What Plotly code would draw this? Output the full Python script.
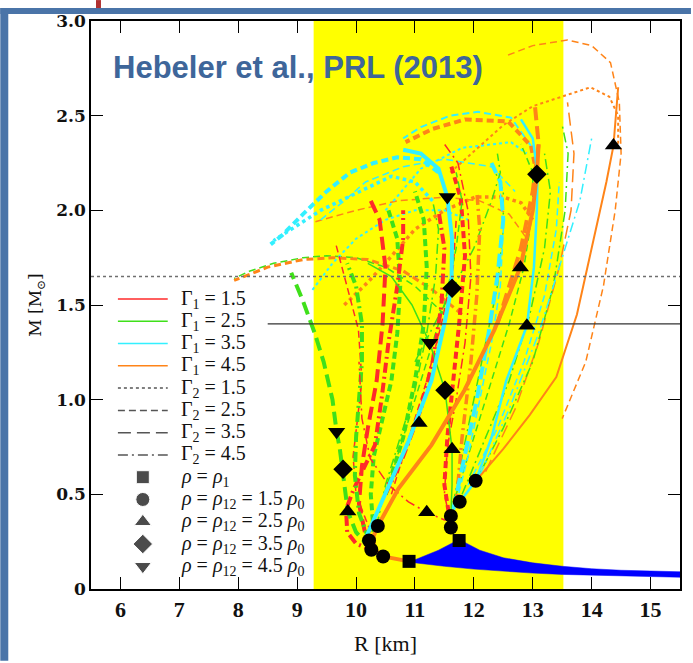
import plotly.graph_objects as go

# ---------------- data ----------------
radius_band = [9.28, 13.52]          # yellow band (km)
ref_mass_dotted = 1.65
ref_mass_solid = 1.4
ref_solid_start = 8.5

# blue crust band polygon
band_R = [10.95, 11.4, 11.75, 12.1, 12.5, 13.0, 13.5, 14.0, 14.5, 15.0, 15.5,
          15.5, 15.0, 14.5, 14.0, 13.5, 13.0, 12.5, 12.0, 11.5, 10.95]
band_M = [0.148, 0.205, 0.262, 0.205, 0.165, 0.138, 0.12, 0.107, 0.099, 0.094, 0.091,
          0.062, 0.065, 0.068, 0.072, 0.077, 0.084, 0.094, 0.105, 0.12, 0.14]

# markers
sq_R = [10.90, 11.75]
sq_M = [0.146, 0.256]
ci_R = [10.37, 10.22, 10.26, 10.46, 11.61, 11.61, 11.76, 12.03]
ci_M = [0.333, 0.256, 0.207, 0.172, 0.386, 0.325, 0.461, 0.572]
tu_R = [9.86, 11.20, 11.07, 11.63, 12.79, 12.90, 14.37]
tu_M = [0.409, 0.405, 0.877, 0.738, 1.698, 1.391, 2.342]
di_R = [9.78, 11.51, 11.63, 13.07]
di_M = [0.632, 1.05, 1.589, 2.19]
td_R = [9.67, 11.25, 11.55]
td_M = [0.83, 1.30, 2.07]

# mass-radius curves (R in km, M in Msun)
g1_R = [10.26, 10.0, 9.86, 9.80, 9.78, 9.72, 9.67, 9.60, 9.45, 9.30, 9.10, 8.90]
g1_M = [0.21, 0.30, 0.41, 0.55, 0.63, 0.75, 0.83, 1.00, 1.20, 1.35, 1.52, 1.67]
g2_R = [10.22, 10.05, 9.98, 10.0, 10.05, 10.1, 10.1, 10.0, 9.85]
g2_M = [0.26, 0.40, 0.60, 0.80, 1.00, 1.20, 1.40, 1.60, 1.72]
g3_R = [10.30, 10.25, 10.30, 10.45, 10.60, 10.70, 10.75, 10.70, 10.55]
g3_M = [0.30, 0.50, 0.70, 0.90, 1.10, 1.35, 1.60, 1.85, 2.00]
g4_R = [10.35, 10.5, 10.75, 11.0, 11.2, 11.35, 11.4, 11.3]
g4_M = [0.33, 0.55, 0.80, 1.05, 1.35, 1.65, 1.90, 2.05]
g5_R = [11.61, 11.63, 11.63, 11.51, 11.25, 10.95, 10.6, 10.2]
g5_M = [0.39, 0.55, 0.74, 1.05, 1.30, 1.50, 1.65, 1.72]
g6_R = [11.5, 11.0, 10.5, 10.0, 9.5, 9.1, 8.6, 8.2, 7.93]
g6_M = [1.45, 1.60, 1.70, 1.75, 1.76, 1.75, 1.72, 1.68, 1.64]
g7_R = [11.65, 11.8, 12.0, 12.2, 12.4, 12.5, 12.5, 12.3]
g7_M = [0.45, 0.70, 1.00, 1.30, 1.60, 1.90, 2.10, 2.25]
g8_R = [11.7, 12.0, 12.3, 12.6, 12.85, 13.0, 13.0, 12.8]
g8_M = [0.50, 0.80, 1.10, 1.40, 1.70, 2.00, 2.20, 2.35]
g9_R = [10.5, 10.8, 11.0, 11.15, 11.2, 11.15, 11.0]
g9_M = [0.50, 0.80, 1.10, 1.40, 1.70, 1.95, 2.10]
g10_R = [12.0, 12.5, 13.0, 13.35, 13.55, 13.6, 13.5]
g10_M = [0.55, 0.85, 1.20, 1.60, 2.00, 2.30, 2.45]
g11_R = [11.0, 11.5, 12.0, 12.3, 12.45, 12.4]
g11_M = [1.20, 1.50, 1.80, 2.05, 2.20, 2.30]
g12_R = [10.6, 10.9, 11.2, 11.5, 11.7, 11.8, 11.7]
g12_M = [0.60, 0.90, 1.20, 1.50, 1.80, 2.05, 2.20]
g13_R = [11.8, 12.2, 12.6, 12.95, 13.2, 13.3, 13.2]
g13_M = [0.50, 0.80, 1.10, 1.45, 1.80, 2.10, 2.30]

c1_R = [10.18, 10.35, 10.55, 10.89, 11.28, 11.5, 11.62, 11.63, 11.55, 11.4, 11.1, 10.8]
c1_M = [0.28, 0.40, 0.53, 0.78, 1.10, 1.40, 1.59, 1.85, 2.07, 2.22, 2.30, 2.32]
c2_R = [11.76, 12.03, 12.3, 12.55, 12.9, 13.02, 13.07, 13.08, 13.0, 12.8]
c2_M = [0.46, 0.57, 0.80, 1.10, 1.39, 1.70, 2.00, 2.20, 2.38, 2.48]
c3_R = [12.97, 12.63, 12.07, 11.6, 11.1, 10.8]
c3_M = [2.34, 2.49, 2.52, 2.50, 2.44, 2.38]
c4_R = [11.4, 11.1, 10.7, 10.3, 9.9, 9.5, 9.1, 8.75, 8.55]
c4_M = [2.20, 2.27, 2.28, 2.25, 2.20, 2.10, 1.98, 1.87, 1.82]
c5_R = [11.3, 11.0, 10.6, 10.2, 9.8, 9.4, 9.0, 8.6]
c5_M = [2.05, 2.15, 2.18, 2.12, 2.06, 2.00, 1.92, 1.84]
c6_R = [12.1, 12.6, 13.1, 13.5, 13.8, 14.0]
c6_M = [0.60, 0.95, 1.35, 1.75, 2.05, 2.38]
c7_R = [11.7, 11.9, 12.1, 12.3, 12.45, 12.5, 12.45]
c7_M = [0.45, 0.70, 1.00, 1.30, 1.60, 1.90, 2.10]
c8_R = [11.65, 11.85, 12.05, 12.25, 12.4, 12.5, 12.45, 12.3]
c8_M = [0.42, 0.70, 1.00, 1.35, 1.65, 1.95, 2.15, 2.25]
c9_R = [9.26, 9.6, 10.0, 10.5, 11.0, 11.5, 11.9]
c9_M = [1.58, 1.72, 1.85, 1.95, 2.00, 2.00, 1.95]
c10_R = [9.4, 9.8, 10.16, 10.8, 11.5, 12.3, 12.7]
c10_M = [1.95, 2.05, 2.15, 2.23, 2.27, 2.23, 2.10]
c11_R = [10.5, 11.1, 11.8, 12.63, 12.9]
c11_M = [2.00, 2.22, 2.33, 2.36, 2.30]
c12_R = [11.9, 12.4, 12.85, 13.2, 13.4, 13.45]
c12_M = [0.55, 0.85, 1.20, 1.55, 1.90, 2.15]

o1_R = [10.9, 10.46, 10.3, 10.3, 10.37, 10.72, 11.28, 11.84, 12.35, 12.79, 13.0, 13.07, 13.1]
o1_M = [0.146, 0.172, 0.21, 0.28, 0.333, 0.53, 0.76, 1.05, 1.37, 1.70, 2.00, 2.19, 2.35]
o2_R = [12.03, 12.5, 12.95, 13.4, 13.75, 14.04, 14.25, 14.37, 14.43, 14.45]
o2_M = [0.57, 0.74, 0.92, 1.12, 1.45, 1.85, 2.15, 2.34, 2.55, 2.65]
o3_R = [11.6, 12.0, 12.5, 13.0, 13.5, 13.98, 14.3, 14.45, 14.45]
o3_M = [2.20, 2.31, 2.45, 2.55, 2.60, 2.65, 2.60, 2.50, 2.35]
o4_R = [12.58, 13.0, 13.59, 14.0, 14.32, 14.47, 14.5, 14.4, 14.2, 13.9, 13.5]
o4_M = [2.82, 2.87, 2.90, 2.87, 2.78, 2.57, 2.30, 2.00, 1.60, 1.20, 0.90]
o5_R = [12.4, 12.8, 13.0, 13.1, 13.03]
o5_M = [1.40, 1.80, 2.10, 2.35, 2.575]
o6_R = [13.07, 12.97, 12.58, 11.85, 11.3, 10.84]
o6_M = [2.19, 2.34, 2.47, 2.48, 2.43, 2.36]
o7_R = [9.8, 10.2, 10.55, 11.0, 11.5, 12.02, 12.5, 12.8, 13.0]
o7_M = [1.50, 1.62, 1.74, 1.90, 2.00, 2.07, 2.07, 2.04, 1.95]
o8_R = [9.31, 10.0, 10.7, 11.5, 12.1, 12.6, 12.9]
o8_M = [1.94, 2.00, 2.05, 2.07, 2.05, 1.98, 1.85]
o9_R = [11.8, 11.3, 10.8, 10.2, 9.6, 9.1, 8.5, 7.93]
o9_M = [1.45, 1.58, 1.68, 1.74, 1.75, 1.74, 1.70, 1.63]
o10_R = [12.2, 12.7, 13.1, 13.45, 13.65, 13.7, 13.59]
o10_M = [0.62, 0.95, 1.30, 1.70, 2.00, 2.30, 2.57]
o11_R = [11.7, 11.8, 11.95, 12.05, 12.1, 12.05]
o11_M = [0.45, 0.80, 1.20, 1.55, 1.90, 2.10]

r1_R = [10.3, 10.0, 9.85, 9.83, 9.95, 10.07, 10.32, 10.44, 10.55, 10.7, 10.8, 10.8]
r1_M = [0.20, 0.24, 0.30, 0.42, 0.52, 0.60, 0.76, 1.02, 1.30, 1.60, 1.85, 2.00]
r2_R = [10.15, 10.05, 10.1, 10.2, 10.35, 10.45, 10.5, 10.4, 10.25]
r2_M = [0.30, 0.45, 0.65, 0.85, 1.10, 1.40, 1.70, 1.95, 2.05]
r3_R = [10.25, 10.0, 9.95, 10.05, 10.1, 10.04, 9.85, 9.65]
r3_M = [0.30, 0.50, 0.70, 0.95, 1.10, 1.37, 1.60, 1.83]
r4_R = [11.6, 11.5, 11.55, 11.65, 11.75, 11.85, 11.78, 11.6]
r4_M = [0.35, 0.55, 0.80, 1.10, 1.40, 1.76, 2.06, 2.25]
r5_R = [11.61, 11.5, 11.2, 10.89, 10.55, 10.24, 10.1, 10.05]
r5_M = [0.37, 0.365, 0.405, 0.46, 0.55, 0.69, 0.90, 1.20]
r6_R = [11.62, 11.5, 11.55, 11.7, 11.85, 11.95, 11.9, 11.73, 11.5]
r6_M = [0.33, 0.50, 0.75, 1.00, 1.30, 1.65, 2.00, 2.25, 2.35]
r7_R = [10.5, 10.8, 11.1, 11.3, 11.45, 11.5, 11.4]
r7_M = [0.50, 0.70, 0.95, 1.20, 1.50, 1.80, 2.00]
r8_R = [10.6, 10.9, 11.2, 11.45, 11.65, 11.7]
r8_M = [0.50, 0.80, 1.10, 1.40, 1.70, 1.95]

x_ticks = [6, 7, 8, 9, 10, 11, 12, 13, 14, 15]
y_ticks = [0, 0.5, 1.0, 1.5, 2.0, 2.5, 3.0]
y_tick_labels = ["0", "0.5", "1.0", "1.5", "2.0", "2.5", "3.0"]

legend_gamma1 = ["1.5", "2.5", "3.5", "4.5"]
legend_gamma2 = ["1.5", "2.5", "3.5", "4.5"]
legend_rho = ["<i>ρ</i> = <i>ρ</i><sub>1</sub>",
              "<i>ρ</i> = <i>ρ</i><sub>12</sub> = 1.5 <i>ρ</i><sub>0</sub>",
              "<i>ρ</i> = <i>ρ</i><sub>12</sub> = 2.5 <i>ρ</i><sub>0</sub>",
              "<i>ρ</i> = <i>ρ</i><sub>12</sub> = 3.5 <i>ρ</i><sub>0</sub>",
              "<i>ρ</i> = <i>ρ</i><sub>12</sub> = 4.5 <i>ρ</i><sub>0</sub>"]

# ---------------- styles ----------------
RED, GREEN, CYAN, ORANGE = "#ff2a2a", "#3fe01a", "#33f0ff", "#ff8418"
DASH = {"dot": "dot", "dash": "7px,4px", "long": "13px,6px", "dd": "10px,4px,2px,4px", "solid": "solid"}

curves = [
    (g6_R, g6_M, GREEN, "dash", 1.5), (o9_R, o9_M, ORANGE, "dash", 3),
    (o8_R, o8_M, ORANGE, "dash", 1.5), (c9_R, c9_M, CYAN, "dot", 2),
    (c10_R, c10_M, CYAN, "dash", 1.5), (c11_R, c11_M, CYAN, "dot", 2),
    (o7_R, o7_M, ORANGE, "dot", 3.5),
    (c5_R, c5_M, CYAN, "dot", 3.5), (c4_R, c4_M, CYAN, "dash", 4),
    (c3_R, c3_M, CYAN, "dash", 2), (o6_R, o6_M, ORANGE, "dash", 4),
    (o3_R, o3_M, ORANGE, "dot", 2), (o4_R, o4_M, ORANGE, "dash", 1.5),
    (o10_R, o10_M, ORANGE, "long", 1.5),
    (g10_R, g10_M, GREEN, "dd", 1.5), (c6_R, c6_M, CYAN, "dd", 1.5),
    (c12_R, c12_M, CYAN, "dash", 1.5), (g13_R, g13_M, GREEN, "dd", 1.5),
    (g8_R, g8_M, GREEN, "dash", 1.5), (g7_R, g7_M, GREEN, "dd", 1.5),
    (g11_R, g11_M, GREEN, "dd", 1.5), (c7_R, c7_M, CYAN, "dash", 1.5),
    (o11_R, o11_M, ORANGE, "dd", 3.5), (c8_R, c8_M, CYAN, "long", 4),
    (r6_R, r6_M, RED, "dd", 1.5), (r4_R, r4_M, RED, "dash", 4),
    (r8_R, r8_M, RED, "dash", 1.5), (g12_R, g12_M, GREEN, "dash", 1.5),
    (r7_R, r7_M, RED, "dd", 4), (g9_R, g9_M, GREEN, "dash", 4),
    (g4_R, g4_M, GREEN, "dd", 1.5), (g3_R, g3_M, GREEN, "dash", 4),
    (r3_R, r3_M, RED, "dash", 1.5), (r2_R, r2_M, RED, "long", 4),
    (r1_R, r1_M, RED, "dd", 4), (g2_R, g2_M, GREEN, "dd", 4),
    (g1_R, g1_M, GREEN, "long", 4), (r5_R, r5_M, RED, "dd", 1.5),
    (o5_R, o5_M, ORANGE, "long", 4), (o2_R, o2_M, ORANGE, "solid", 2),
    (c2_R, c2_M, CYAN, "solid", 2.5), (g5_R, g5_M, GREEN, "solid", 1.5),
    (c1_R, c1_M, CYAN, "solid", 4), (o1_R, o1_M, ORANGE, "solid", 4),
]

fig = go.Figure()

for R, M, col, d, w in curves:
    fig.add_trace(go.Scatter(x=R, y=M, mode="lines", line=dict(color=col, dash=DASH[d], width=w),
                             showlegend=False, hoverinfo="skip"))

# reference lines
fig.add_trace(go.Scatter(x=[5.5, 15.5], y=[ref_mass_dotted] * 2, mode="lines",
                         line=dict(color="#6f6f6f", dash="dot", width=1.5), showlegend=False,
                         hoverinfo="skip"))
fig.add_trace(go.Scatter(x=[ref_solid_start, 15.5], y=[ref_mass_solid] * 2, mode="lines",
                         line=dict(color="#333333", width=1.3), showlegend=False, hoverinfo="skip"))

# blue band
fig.add_trace(go.Scatter(x=band_R, y=band_M, mode="lines", fill="toself", fillcolor="#0000ff",
                         line=dict(color="#0000ff", width=0.5), showlegend=False, hoverinfo="skip"))

# markers
SYMS = ["square", "circle", "triangle-up", "diamond", "triangle-down"]
SIZES = [13, 14, 15, 15, 15]
for (R, M), sym, sz in zip([(sq_R, sq_M), (ci_R, ci_M), (tu_R, tu_M), (di_R, di_M), (td_R, td_M)],
                           SYMS, SIZES):
    fig.add_trace(go.Scatter(x=R, y=M, mode="markers",
                             marker=dict(color="black", size=sz, symbol=sym),
                             showlegend=False, hoverinfo="skip"))

# ---------------- custom legend ----------------
L, Rm, T, B = 91, 682, 21, 591
def px(x): return (x - L) / (Rm - L)
def py(y): return (B - y) / (B - T)

row_y = [py(300 + 22.35 * i) for i in range(13)]
shapes = []
legend_cols = [RED, GREEN, CYAN, ORANGE]
for i, c in enumerate(legend_cols):
    shapes.append(dict(type="line", xref="paper", yref="paper", x0=px(118), x1=px(168),
                       y0=row_y[i], y1=row_y[i], line=dict(color=c, width=1.5)))
for i, d in enumerate(["dot", "dash", "long", "dd"]):
    shapes.append(dict(type="line", xref="paper", yref="paper", x0=px(118), x1=px(168),
                       y0=row_y[4 + i], y1=row_y[4 + i],
                       line=dict(color="#555555", width=1.5, dash=DASH[d])))

LEG_FONT = dict(family="Liberation Serif", size=20, color="#111")
annotations = []
for i, g in enumerate(legend_gamma1):
    annotations.append(dict(xref="paper", yref="paper", x=px(179), y=row_y[i], xanchor="left",
                            yanchor="middle", showarrow=False,
                            text="Γ<sub>1</sub> = " + g, font=LEG_FONT))
for i, g in enumerate(legend_gamma2):
    annotations.append(dict(xref="paper", yref="paper", x=px(179), y=row_y[4 + i], xanchor="left",
                            yanchor="middle", showarrow=False,
                            text="Γ<sub>2</sub> = " + g, font=LEG_FONT))
for i, t in enumerate(legend_rho):
    annotations.append(dict(xref="paper", yref="paper", x=px(179), y=row_y[8 + i], xanchor="left",
                            yanchor="middle", showarrow=False, text=t, font=LEG_FONT))

fig.add_trace(go.Scatter(x=[px(143)] * 5, y=row_y[8:13], mode="markers", xaxis="x2", yaxis="y2",
                         marker=dict(color="black", size=SIZES, symbol=SYMS),
                         showlegend=False, hoverinfo="skip"))

# title
annotations.append(dict(xref="paper", yref="paper", x=px(111), y=py(68), xanchor="left",
                        yanchor="middle", showarrow=False,
                        text="<b>Hebeler et al., PRL (2013)</b>",
                        font=dict(family="Liberation Sans", size=31, color="#3e669a")))

# yellow band
shapes.insert(0, dict(type="rect", xref="x", yref="paper", x0=radius_band[0], x1=radius_band[1],
                      y0=0, y1=1, fillcolor="#ffff00", line=dict(width=0), layer="below"))
# slide border
shapes.append(dict(type="rect", xref="paper", yref="paper", x0=px(0), x1=px(8), y0=py(663),
                   y1=py(8), fillcolor="#4a74a8", line=dict(width=0)))
shapes.append(dict(type="rect", xref="paper", yref="paper", x0=px(0), x1=px(693), y0=py(14),
                   y1=py(8), fillcolor="#4a74a8", line=dict(width=0)))
shapes.append(dict(type="rect", xref="paper", yref="paper", x0=px(96), x1=px(101), y0=py(8),
                   y1=py(0), fillcolor="#b03030", line=dict(width=0)))

fig.update_layout(
    width=693, height=663,
    margin=dict(l=L, r=693 - Rm, t=T, b=663 - B),
    paper_bgcolor="white", plot_bgcolor="white",
    shapes=shapes, annotations=annotations,
    xaxis=dict(range=[5.5, 15.5], tickvals=x_ticks, ticktext=["<b>%d</b>" % v for v in x_ticks],
               ticks="inside", ticklen=12,
               tickwidth=1.3, tickcolor="black", mirror="ticks", showline=True, linecolor="black",
               linewidth=1.5, showgrid=False, zeroline=False,
               tickfont=dict(family="Liberation Serif", size=22, color="#111"),
               title=dict(text="R [km]", font=dict(family="Liberation Serif", size=22, color="#111"),
                          standoff=14)),
    yaxis=dict(range=[0, 3], tickvals=y_ticks, ticktext=["<b>%s</b>" % t for t in y_tick_labels],
               ticks="inside", ticklen=12,
               tickwidth=1.3, tickcolor="black", mirror="ticks", showline=True, linecolor="black",
               linewidth=1.5, showgrid=False, zeroline=False,
               tickfont=dict(family="DejaVu Serif", size=17, color="#111"),
               title=dict(text="M [M<sub>⊙</sub>]",
                          font=dict(family="DejaVu Serif", size=17, color="#111"), standoff=10)),
    xaxis2=dict(overlaying="x", range=[0, 1], visible=False),
    yaxis2=dict(overlaying="y", range=[0, 1], visible=False),
)

fig.write_html("out.html", config={"displayModeBar": False},
               post_script="document.body.style.margin='0px';document.body.style.overflow='hidden';")
